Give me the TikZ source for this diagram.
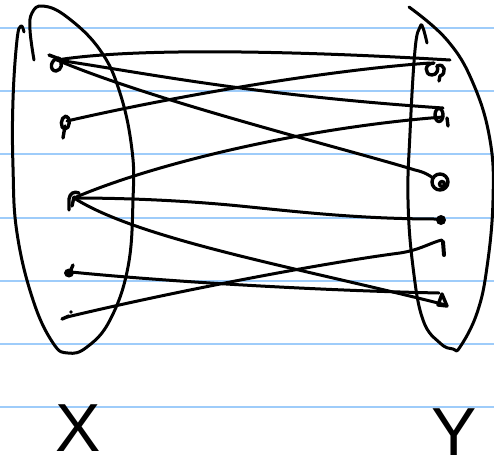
\documentclass[tikz,border=0pt]{standalone}
\usepackage{fontspec}
\newfontfamily\handfont{Liberation Sans}
\definecolor{rulecol}{RGB}{158,204,250}
\tikzset{
  ink/.style={line width=3pt, line cap=round, line join=round},
  markink/.style={line width=3.4pt, line cap=round, line join=round},
  conn/.style={ink},
  ruled/.style={draw=rulecol, line width=1.8pt},
  letter/.style={inner sep=0pt, font=\handfont\fontsize{68}{68}\selectfont}
}
\begin{document}
\begin{tikzpicture}[x=1pt,y=-1pt]
\useasboundingbox (0,0) rectangle (494,469);
\fill[white] (0,0) rectangle (494,469);
% ruled paper
\foreach \yy in {28,91,154,218,281,344,407} \draw[ruled] (0,\yy) -- (494,\yy);

% set X outline
\draw[ink] plot[smooth, tension=0.7] coordinates {(34,60) (30,30) (32,13) (43,6) (67,17) (100,50) (120,93) (132,150) (133,200) (128,267) (110,320) (87,347) (68,353) (53,343) (33,300) (17,233) (13,167) (13,100) (17,40) (21,26) (24,32)};
% set Y outline
\draw[ink] plot[smooth, tension=0.7] coordinates {(409,7) (447,40) (473,83) (490,140) (493,200) (487,267) (477,313) (460,347) (453,349) (440,343) (423,320) (413,267) (408,200) (410,133) (415,50) (420,27) (423,28) (427,43)};

% points of X
\coordinate (x1) at (57,60);
\coordinate (x2) at (67,121);
\coordinate (x3) at (74,198);
\coordinate (x4) at (71,272);
\coordinate (x5) at (67,317);
% points of Y
\coordinate (y1) at (430,63);
\coordinate (y1r) at (450,60);
\coordinate (y2a) at (443,108);
\coordinate (y2b) at (443,117);
\coordinate (y3) at (433,178);
\coordinate (y4) at (438,219);
\coordinate (y5) at (442,240);
\coordinate (y6a) at (439,293);
\coordinate (y6b) at (446,305);

% marks of X
\draw[markink] (49,55) -- (57,58);
\draw[markink] (59,58) .. controls (50,59) and (49,71) .. (56,71) .. controls (62,70) and (63,63) .. (59,58);
\draw[markink] (66,116) .. controls (60,117) and (60,129) .. (65,129) .. controls (70,129) and (71,117) .. (66,116);
\draw[markink] (65,126) -- (63,138);
\draw[markink] (69,210) -- (69,199) .. controls (70,193) and (74,191) .. (79,193);
\draw[markink] (72,206) -- (74,197);
\fill (69,273) ellipse [x radius=5pt, y radius=4.5pt];
\draw[markink] (70,272) -- (73,265);
\draw[markink] (62,319) -- (69,316);
\fill (71,312) circle [radius=1.8pt];

% marks of Y
\draw[markink] (434,63) .. controls (424,63) and (424,75) .. (432,75) .. controls (437,75) and (439,69) .. (437,66);
\draw[markink] (437,66) .. controls (445,62) and (447,74) .. (440,76) -- (439,81);
\draw[markink] (439,115) ellipse [x radius=4pt, y radius=6.5pt];
\draw[markink] (447,118) -- (448,126);
\draw[markink] (440,182) circle [radius=8pt];
\draw[markink] (442,184) circle [radius=2.5pt];
\fill (441,220) circle [radius=5pt];
\draw[ink, line width=4pt] (443,242) -- (444,255);
\draw[markink] (438,305) -- (442,294) -- (447,306) -- cycle;

% connectors
\draw[conn] (x1) .. controls (150,45) and (350,54) .. (y1r);
\draw[conn] (x2) .. controls (180,95) and (330,70) .. (y1);
\draw[conn] (x1) .. controls (140,72) and (250,95) .. (y2a);
\draw[conn] (x1) .. controls (150,100) and (350,150) .. (415,170) .. controls (424,172) and (429,175) .. (y3);
\draw[conn] (x3) .. controls (150,165) and (300,128) .. (y2b);
\draw[conn] (x3) .. controls (140,198) and (200,202) .. (240,206) .. controls (300,212) and (360,219) .. (y4);
\draw[conn] (x3) .. controls (140,240) and (300,268) .. (y6b);
\draw[conn] (x4) .. controls (150,280) and (300,290) .. (y6a);
\draw[conn] (x5) .. controls (180,290) and (330,262) .. (400,253) .. controls (420,250) and (432,242) .. (y5);

% labels
\node[letter] (labX) at (78,428) {X};
\node[letter] (labY) at (454,432) {Y};
\end{tikzpicture}
\end{document}
